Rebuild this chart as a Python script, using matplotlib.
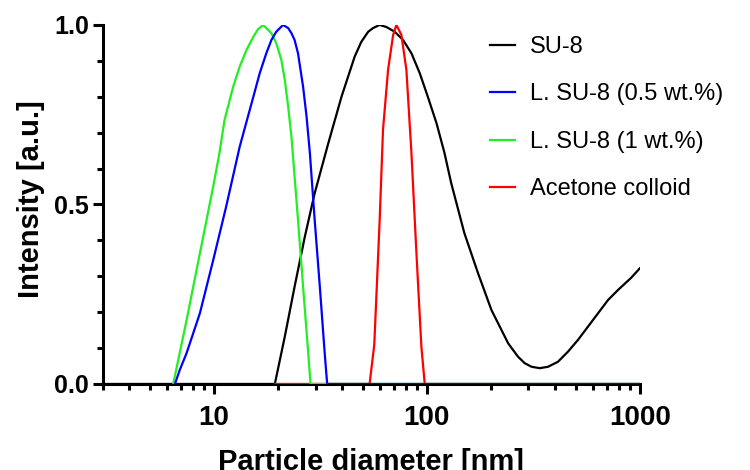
import matplotlib
matplotlib.use("Agg")
import matplotlib.pyplot as plt
from matplotlib.ticker import LogLocator, MultipleLocator, FixedLocator, FixedFormatter, NullFormatter

plt.rcParams['font.family'] = ['Liberation Sans', 'DejaVu Sans']

# particle diameter [nm] and normalised intensity
su8_x = [3, 19.3, 21.5, 23.9, 26.7, 29.7, 34.4, 39.7, 45.8, 49.2, 53.0, 55.8, 60.0, 64.6,
         70.6, 77.3, 84.6, 92.5, 101, 111, 121, 130, 150, 174, 201, 241, 268, 288, 310,
         339, 371, 413, 460, 513, 637, 710, 791, 912, 1000]
su8_y = [0.0, 0.0, 0.132, 0.271, 0.410, 0.531, 0.670, 0.800, 0.912, 0.953, 0.981, 0.991, 1.0, 0.994,
         0.981, 0.958, 0.921, 0.866, 0.800, 0.726, 0.643, 0.560, 0.420, 0.308, 0.206, 0.113, 0.076, 0.058, 0.048,
         0.044, 0.048, 0.062, 0.090, 0.123, 0.197, 0.234, 0.262, 0.296, 0.322]

lsu8_05_x = [6.55, 6.90, 7.43, 8.58, 9.91, 11.4, 13.2, 15.3, 16.4, 17.6, 18.6, 19.6, 21.1, 22.3,
             23.1, 23.9, 24.8, 26.2, 27.2, 28.2, 29.7, 31.4, 33.1, 34.0, 1000]
lsu8_05_y = [0.0, 0.039, 0.086, 0.197, 0.345, 0.494, 0.661, 0.800, 0.866, 0.921, 0.958, 0.981, 1.0, 0.991,
             0.977, 0.958, 0.921, 0.828, 0.745, 0.643, 0.457, 0.271, 0.086, 0.0, 0.0]

lsu8_1_x = [6.43, 7.43, 8.58, 9.91, 10.6, 11.2, 12.3, 13.2, 14.2, 15.3, 16.1, 17.0, 17.6, 18.6,
            19.6, 20.7, 21.5, 22.3, 23.1, 24.8, 26.2, 27.7, 28.4, 1000]
lsu8_1_y = [0.0, 0.178, 0.364, 0.550, 0.643, 0.735, 0.828, 0.884, 0.930, 0.967, 0.988, 1.0, 0.991, 0.977,
            0.949, 0.903, 0.847, 0.772, 0.689, 0.457, 0.271, 0.086, 0.0, 0.0]

acetone_x = [19.4, 53.8, 56.6, 60.0, 62.2, 65.7, 69.4, 71.9, 75.9, 80.1, 84.6, 89.3, 94.2, 97.7, 1000]
acetone_y = [0.0, 0.0, 0.110, 0.457, 0.708, 0.875, 0.972, 1.0, 0.972, 0.875, 0.643, 0.364, 0.104, 0.0, 0.0]

fig = plt.figure(figsize=(7.5, 4.7), dpi=100)
ax = fig.add_axes([0.137, 0.183, 0.716, 0.764])

ax.plot(su8_x, su8_y, color='black', lw=1.6, label='SU-8', zorder=2)
ax.plot(lsu8_05_x, lsu8_05_y, color='#0000FF', lw=1.6, label='L. SU-8 (0.5 wt.%)', zorder=5)
ax.plot(lsu8_1_x, lsu8_1_y, color='#22EE22', lw=1.6, label='L. SU-8 (1 wt.%)', zorder=4)
ax.plot(acetone_x, acetone_y, color='#FF0000', lw=1.6, label='Acetone colloid', zorder=3)

ax.set_xscale('log')
ax.set_xlim(3, 1000)
ax.set_ylim(0, 1.0)
ax.xaxis.set_major_locator(FixedLocator([10, 100, 1000]))
ax.xaxis.set_major_formatter(FixedFormatter(['10', '100', '1000']))
ax.xaxis.set_minor_locator(LogLocator(base=10, subs=range(2, 10), numticks=20))
ax.xaxis.set_minor_formatter(NullFormatter())
ax.yaxis.set_major_locator(FixedLocator([0.0, 0.5, 1.0]))
ax.yaxis.set_major_formatter(FixedFormatter(['0.0', '0.5', '1.0']))
ax.yaxis.set_minor_locator(MultipleLocator(0.1))

for s in ['top', 'right']:
    ax.spines[s].set_visible(False)
for s in ['left', 'bottom']:
    ax.spines[s].set_linewidth(2.2)

ax.tick_params(which='major', direction='out', length=7, width=2.2)
ax.tick_params(which='minor', direction='out', length=4, width=2.2)
ax.tick_params(axis='x', which='major', pad=8, labelsize=20)
ax.tick_params(axis='y', which='major', pad=3, labelsize=18)
for lab in ax.get_xticklabels() + ax.get_yticklabels():
    lab.set_fontweight('bold')

ax.set_xlabel('Particle diameter [nm]', fontsize=21, fontweight='bold')
ax.set_ylabel('Intensity [a.u.]', fontsize=21, fontweight='bold')
ax.xaxis.set_label_coords(0.5, -0.178)
ax.yaxis.set_label_coords(-0.108, 0.514)

fig.legend(loc='upper left', bbox_to_anchor=(0.641, 0.944), frameon=False,
           fontsize=17, handlelength=1.06, handletextpad=0.64, labelspacing=1.08,
           borderaxespad=0)

plt.savefig('out.png', dpi=100)
